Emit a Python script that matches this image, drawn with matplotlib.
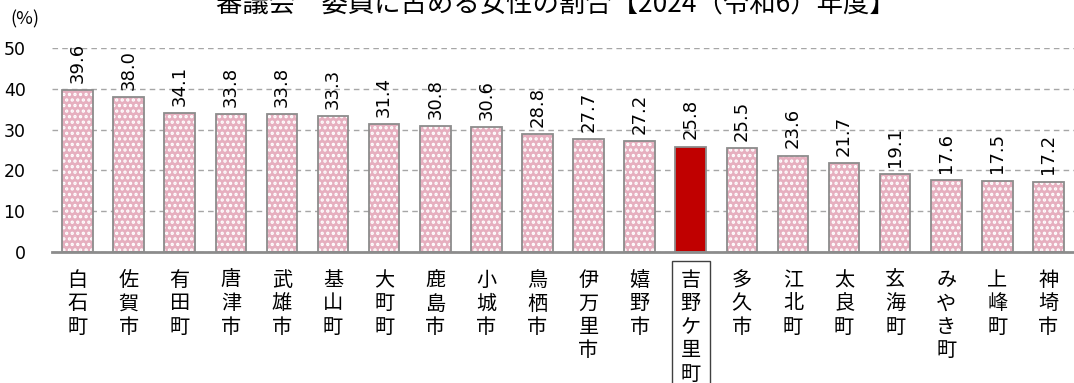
import matplotlib
matplotlib.use("Agg")
import matplotlib.pyplot as plt
import numpy as np

plt.rcParams["font.family"] = ["Noto Sans CJK JP", "DejaVu Sans"]
plt.rcParams["hatch.linewidth"] = 1.6

TITLE = "審議会　委員に占める女性の割合【2024（令和6）年度】"
Y_UNIT = "(%)"

towns = ["白石町", "佐賀市", "有田町", "唐津市", "武雄市", "基山町", "大町町", "鹿島市",
         "小城市", "鳥栖市", "伊万里市", "嬉野市", "吉野ケ里町", "多久市", "江北町",
         "太良町", "玄海町", "みやき町", "上峰町", "神埼市"]
ratios = [39.6, 38.0, 34.1, 33.8, 33.8, 33.3, 31.4, 30.8, 30.6, 28.8, 27.7, 27.2,
          25.8, 25.5, 23.6, 21.7, 19.1, 17.6, 17.5, 17.2]
highlight = "吉野ケ里町"
y_ticks = [0, 10, 20, 30, 40, 50]

PINK = "#E6AFBF"
RED = "#C00000"
EDGE = "#8C8C8C"

fig = plt.figure(figsize=(10.74, 3.83), dpi=100)
ax = fig.add_axes([52 / 1074, 1 - 252 / 383, 1 - 52 / 1074, 204 / 383])

x = np.arange(len(towns))
vals = np.array(ratios)
hi = np.array([t == highlight for t in towns])
width = 0.6

ax.bar(x[~hi], vals[~hi], width=width, color=PINK, edgecolor="white",
       hatch="...", linewidth=0, zorder=2)
ax.bar(x[hi], vals[hi], width=width, color=RED, linewidth=0, zorder=2)
ax.bar(x, vals, width=width, fill=False, edgecolor=EDGE, linewidth=1.3, zorder=3)

# value labels, rotated like the original
for xi, v in zip(x, vals):
    ax.text(xi, v + 1.8, f"{v:.1f}", rotation=90, ha="center", va="bottom",
            fontsize=13, family="DejaVu Sans")

ax.set_xlim(-0.5, len(towns) - 0.5)
ax.set_ylim(0, 50)
ax.set_yticks(y_ticks)
ax.set_yticklabels([str(t) for t in y_ticks], fontsize=12.5, family="DejaVu Sans")
ax.yaxis.grid(True, color="#A6A6A6", linestyle=(0, (4, 3)), linewidth=1)
ax.set_axisbelow(True)
ax.tick_params(axis="both", length=0)
ax.tick_params(axis="y", pad=19)
ax.tick_params(axis="x", pad=13)

ax.set_xticks(x)
ax.set_xticklabels(["\n".join(t) for t in towns], fontsize=14.5, linespacing=1.15,
                   va="top")
for lab, t in zip(ax.get_xticklabels(), towns):
    if t == highlight:
        lab.set_bbox(dict(facecolor="white", edgecolor="#404040", linewidth=1,
                          boxstyle="square,pad=0.45"))

for side in ["left", "right", "top"]:
    ax.spines[side].set_visible(False)
ax.spines["bottom"].set_color(EDGE)
ax.spines["bottom"].set_linewidth(2)

fig.text(10 / 1074, 1 - 19 / 383, Y_UNIT, fontsize=13, ha="left", va="center")
fig.text(556 / 1074, 1 - 5 / 383, TITLE, fontsize=19, ha="center", va="center")

fig.savefig("out.png", dpi=100)
